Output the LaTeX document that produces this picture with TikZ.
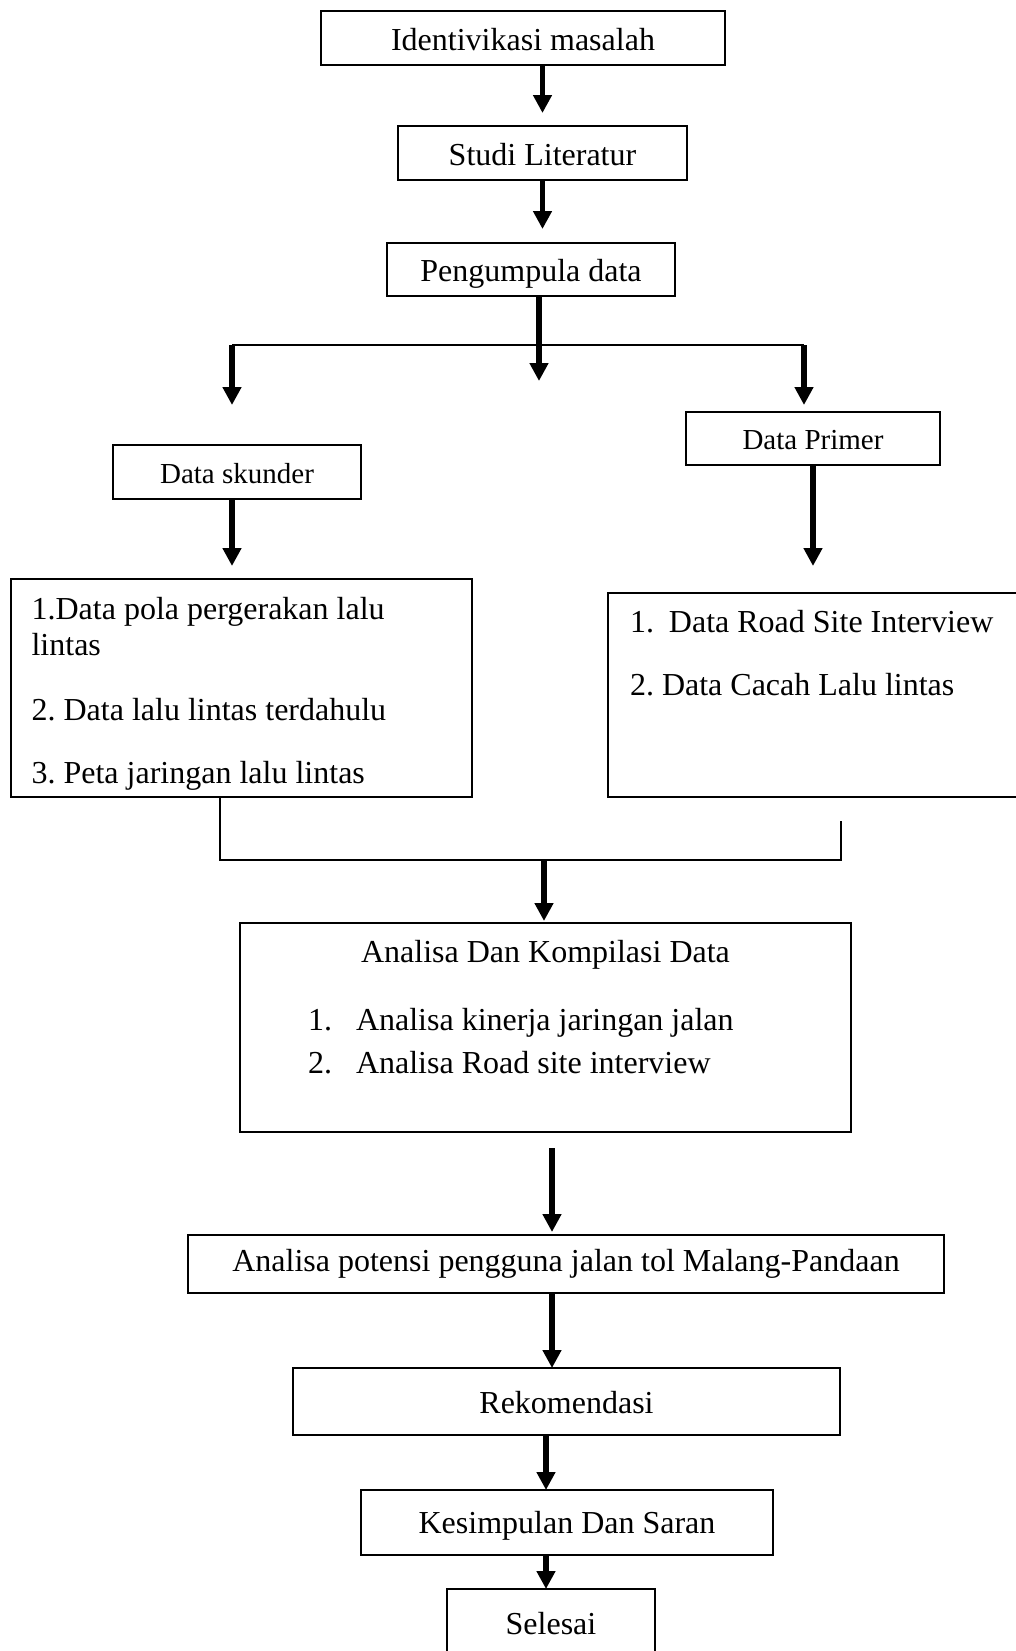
\documentclass[tikz,border=0pt]{standalone}
\usepackage{fontspec}
\setmainfont{Liberation Serif}
\usetikzlibrary{arrows.meta, positioning, calc}
\frenchspacing

\begin{document}
\begin{tikzpicture}[font=\fontsize{16}{18}\selectfont,
    kotak/.style={draw, line width=0.9pt, inner sep=0pt, outer sep=0pt, minimum height=27pt, text height=12pt, text depth=0pt},
    teks/.style={inner sep=0pt, outer sep=0pt, align=left},
    panah/.style={line width=2.6pt, -{Triangle[width=9pt,length=9pt]}},
    garis/.style={line width=0.8pt}]
    \useasboundingbox (0,0) rectangle (508pt,-825.5pt);

    \node[kotak, minimum width=202pt] (ident) at (261.5pt,-19pt) {Identivikasi masalah};
    \node[kotak, minimum width=144.5pt, below=30.5pt of ident, xshift=9.75pt] (studi) {Studi Literatur};
    \node[kotak, minimum width=144pt, minimum height=26.5pt, below=31.5pt of studi, xshift=-5.75pt] (peng) {Pengumpula data};
    \node[kotak, font=\fontsize{14.5}{17}\selectfont, text height=11pt, minimum width=127pt, minimum height=26.5pt, below right=58pt and 5.5pt of peng] (primer) {Data Primer};
    \node[kotak, font=\fontsize{14.5}{17}\selectfont, text height=11pt, minimum width=124pt, below left=74.5pt and 13pt of peng] (skunder) {Data skunder};

    \node[kotak, minimum width=230.5pt, minimum height=109pt, below=40pt of skunder, xshift=2.25pt] (seklist) {};
    \node[teks, anchor=north west] (seklistteks) at ([shift={(10.3pt,-7.4pt)}]seklist.north west)
        {\strut 1.Data pola pergerakan lalu\\lintas\\[14.5pt]2. Data lalu lintas terdahulu\\[13.5pt]3. Peta jaringan lalu lintas};
    \node[kotak, minimum width=205pt, minimum height=102pt, below=64pt of primer] (primlist) {};
    \node[teks, anchor=north west] (primlistteks) at ([shift={(11pt,-6.9pt)}]primlist.north west)
        {\strut 1.\hspace{7.5pt}Data Road Site Interview\\[13.5pt]2. Data Cacah Lalu lintas};

    \node[kotak, minimum width=305.5pt, minimum height=104.5pt, below=63pt of seklist, xshift=152pt] (kompilasi) {};
    \node[teks, anchor=base] (judulkompilasi) at ([yshift=-19.5pt]kompilasi.north) {Analisa Dan Kompilasi Data};
    \node[teks, anchor=north west] (isikompilasi) at ([shift={(34pt,-40.9pt)}]kompilasi.north west)
        {\strut\makebox[24pt][l]{1.}Analisa kinerja jaringan jalan\\[3.5pt]\makebox[24pt][l]{2.}Analisa Road site interview};

    \node[kotak, minimum width=378pt, minimum height=29pt, text height=11pt, text depth=3.5pt, below=51.5pt of kompilasi, xshift=10.25pt] (potensi) {Analisa potensi pengguna jalan tol Malang-Pandaan};
    \node[kotak, minimum width=273.5pt, minimum height=33.5pt, below=37.5pt of potensi, xshift=0.25pt] (rekom) {Rekomendasi};
    \node[kotak, minimum width=206pt, minimum height=32.5pt, text depth=1.5pt, below=27.5pt of rekom, xshift=0.25pt] (kesimpulan) {Kesimpulan Dan Saran};
    \node[kotak, minimum width=104pt, minimum height=33pt, below=17pt of kesimpulan, xshift=-8pt] (selesai) {Selesai};

    % percabangan data
    \coordinate (kiri) at (116pt,-172.5pt);
    \coordinate (kanan) at (402pt,-172.5pt);
    \coordinate (tengah) at (269.5pt,-190.5pt);
    % penggabungan ke analisa
    \coordinate (gabung) at (272pt,-430pt);
    \coordinate (ujung) at (420.5pt,-410.5pt);

    \draw[panah, shorten >=6.5pt] (ident.south -| studi.north) -- (studi.north);
    \draw[panah, shorten >=7pt] (studi.south) -- (studi.south |- peng.north);
    \draw[panah] (peng.south -| tengah) -- (tengah);
    \draw[line width=1.3pt] (kiri) -- (kanan);
    \draw[panah, shorten >=20pt] (kiri) -- (kiri |- skunder.north);
    \draw[panah, shorten >=3.5pt] (kanan) -- (kanan |- primer.north);
    \draw[panah, shorten >=6.5pt] (kiri |- skunder.south) -- (kiri |- seklist.north);
    \draw[panah, shorten >=13.5pt] (primer.south) -- (primer.south |- primlist.north);

    \draw[garis] ([xshift=-10.75pt]seklist.south) |- (gabung) -| (ujung);
    \draw[panah, shorten >=1pt] (gabung) -- (gabung |- kompilasi.north);
    \draw[panah, shorten <=8pt, shorten >=1.5pt] ([xshift=3.25pt]kompilasi.south) -- ([xshift=3.25pt]kompilasi.south |- potensi.north);
    \draw[panah] ([xshift=-7pt]potensi.south) -- ([xshift=-7pt]potensi.south |- rekom.north);
    \draw[panah] ([xshift=-10.25pt]rekom.south) -- ([xshift=-10.25pt]rekom.south |- kesimpulan.north);
    \draw[panah] ([xshift=-10.5pt]kesimpulan.south) -- ([xshift=-10.5pt]kesimpulan.south |- selesai.north);
\end{tikzpicture}
\end{document}
